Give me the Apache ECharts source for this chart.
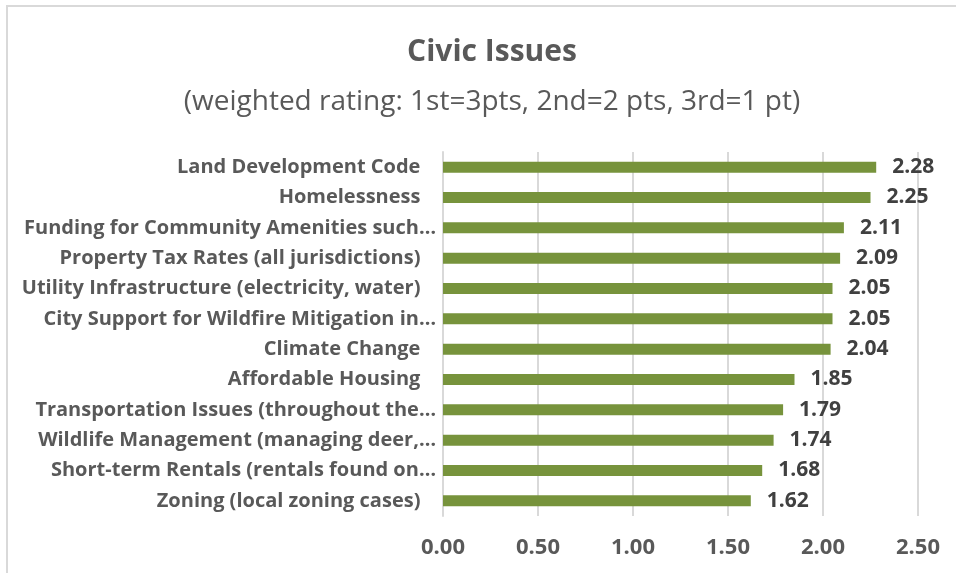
<!DOCTYPE html>
<html>
<head>
<meta charset="utf-8">
<script src="https://cdn.jsdelivr.net/npm/echarts@6/dist/echarts.min.js"></script>
<style>
	html, body {
		margin: 0;
		padding: 0;
		background: #fff;
	}
	.frame {
		position: absolute;
		left: 6px;
		top: 5px;
		width: 1000px;
		height: 600px;
		border-left: 2px solid #d9d9d9;
		border-top: 2px solid #d9d9d9;
	}
	#chart {
		position: absolute;
		left: 0;
		top: 0;
		width: 956px;
		height: 573px;
	}
</style>
</head>
<body>
<div class="frame"></div>
<div id="chart"></div>
<script>
// Issues listed bottom to top (category axis starts at the bottom)
// trailing spaces come from the source labels
const issues = [
	'Zoning (local zoning cases)   ',
	'Short-term Rentals (rentals found on…',
	'Wildlife Management (managing deer,…',
	'Transportation Issues (throughout the…',
	'Affordable Housing   ',
	'Climate Change   ',
	'City Support for Wildfire Mitigation in…',
	'Utility Infrastructure (electricity, water)   ',
	'Property Tax Rates (all jurisdictions)   ',
	'Funding for Community Amenities such…',
	'Homelessness   ',
	'Land Development Code   '
]
const ratings = [1.62, 1.68, 1.74, 1.79, 1.85, 2.04, 2.05, 2.05, 2.09, 2.11, 2.25, 2.28]
const xTicks = { min: 0, max: 2.5, interval: 0.5 }

const fontFamily = '"Open Sans", Lato, sans-serif'
const chart = echarts.init(document.getElementById('chart'))

const option = {
	backgroundColor: 'transparent',
	animation: false,
	title: [
		{
			text: 'Civic Issues',
			left: 487,
			textAlign: 'center',
			top: 32,
			textStyle: { fontFamily, fontSize: 30, fontWeight: 'bold', color: '#595959' }
		},
		{
			text: '(weighted rating: 1st=3pts, 2nd=2 pts, 3rd=1 pt)',
			left: 487,
			textAlign: 'center',
			top: 83,
			textStyle: { fontFamily, fontSize: 28, fontWeight: 'normal', color: '#595959' }
		}
	],
	grid: {
		left: 443,
		right: 38,
		top: 152,
		bottom: 57
	},
	xAxis: {
		type: 'value',
		min: xTicks.min,
		max: xTicks.max,
		interval: xTicks.interval,
		axisLine: { show: false },
		axisTick: { show: false },
		axisLabel: {
			formatter: v => v.toFixed(2),
			margin: 21,
			fontFamily,
			fontSize: 22,
			fontWeight: 'bold',
			color: '#595959'
		},
		splitLine: { lineStyle: { color: '#d9d9d9', width: 2 } }
	},
	yAxis: {
		type: 'category',
		data: issues,
		axisLine: { lineStyle: { color: '#d9d9d9', width: 2 } },
		axisTick: { show: false },
		axisLabel: {
			margin: 7,
			fontFamily,
			fontSize: 20,
			fontWeight: 'bold',
			color: '#595959'
		}
	},
	series: [
		{
			type: 'bar',
			data: ratings,
			barWidth: 11,
			itemStyle: { color: '#77933c' },
			label: {
				show: true,
				position: 'right',
				distance: 16,
				formatter: p => p.value.toFixed(2),
				fontFamily,
				fontSize: 21,
				fontWeight: 'bold',
				color: '#404040'
			}
		}
	]
}

chart.setOption(option)
</script>
</body>
</html>
